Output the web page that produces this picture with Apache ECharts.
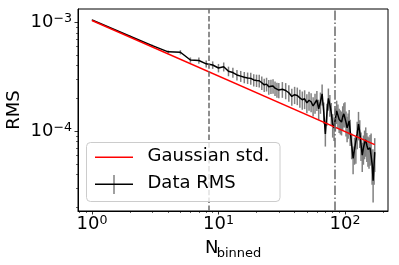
<!DOCTYPE html>
<html><head><meta charset="utf-8">
<script src="https://cdn.jsdelivr.net/npm/echarts@6/dist/echarts.min.js"></script>
<style>html,body{margin:0;padding:0;background:#fff}#c{width:399px;height:265px}</style>
</head><body><div id="c"></div>
<script>
// ---- data ----
const nBinned = [1,2,3,4,5,6,7,8,9,10,11,12,13,14,15,16,17,18,19,20,21,22,23,24,25,26,27,28,29,30,
  32,34,36,38,40,42,44,46,48,50,52,54,56,58,60,62,64,66,68,70,72,74,76,78,80,82,84,86,88,90,
  92,94,96,98,100,102,104,106,108,110,113,116,119,122,125,128,131,134,137,140,143,146,149,152,155,158,161,164,167,170,172];
const dataRms = [1.05e-3,7.45e-4,6.1e-4,5.35e-4,5.3e-4,4.5e-4,4.45e-4,4.15e-4,4.05e-4,3.8e-4,
  3.9e-4,3.55e-4,3.45e-4,3.28e-4,3.2e-4,3.12e-4,3.08e-4,3.05e-4,2.95e-4,2.92e-4,
  2.9e-4,2.78e-4,2.66e-4,2.7e-4,2.55e-4,2.58e-4,2.6e-4,2.48e-4,2.4e-4,2.38e-4,
  2.42e-4,2.36e-4,2.25e-4,2.08e-4,2.16e-4,2.12e-4,2.02e-4,1.94e-4,1.98e-4,1.82e-4,
  1.92e-4,1.86e-4,1.70e-4,1.82e-4,1.93e-4,1.60e-4,1.85e-4,2.2e-4,1.5e-4,9.4e-5,
  1.45e-4,2.0e-4,1.75e-4,1.46e-4,1.15e-4,1.07e-4,1.3e-4,1.53e-4,1.4e-4,1.28e-4,
  1.24e-4,1.21e-4,1.35e-4,1.44e-4,1.46e-4,1.2e-4,1.07e-4,1.15e-4,1.24e-4,1.0e-4,
  7.5e-5,5.6e-5,6.8e-5,7.0e-5,9.5e-5,1.16e-4,9.8e-5,7.5e-5,6.0e-5,7.0e-5,
  7.8e-5,8.3e-5,7.4e-5,6.8e-5,6.6e-5,7.0e-5,7.2e-5,5.0e-5,3.5e-5,5.0e-5,6.4e-5];
const dataErr = [5e-6,7e-6,1.2e-5,1.6e-5,2.4e-5,2.5e-5,2.9e-5,3.1e-5,3.2e-5,3.4e-5,
  3.7e-5,3.6e-5,3.6e-5,3.6e-5,3.7e-5,3.7e-5,3.7e-5,3.8e-5,3.8e-5,3.8e-5,
  3.9e-5,3.9e-5,3.7e-5,3.9e-5,3.9e-5,3.9e-5,4.0e-5,3.8e-5,3.8e-5,3.8e-5,
  4.0e-5,4.0e-5,3.9e-5,3.7e-5,3.9e-5,3.9e-5,3.8e-5,3.7e-5,3.9e-5,3.6e-5,
  3.8e-5,3.7e-5,3.4e-5,3.8e-5,4.0e-5,3.4e-5,4.1e-5,4.8e-5,3.3e-5,2.2e-5,
  3.3e-5,4.6e-5,4.0e-5,3.5e-5,2.8e-5,2.6e-5,3.1e-5,3.7e-5,3.5e-5,3.2e-5,
  3.1e-5,3.0e-5,3.4e-5,3.6e-5,3.8e-5,3.1e-5,2.8e-5,3.0e-5,3.2e-5,2.7e-5,
  2.0e-5,1.6e-5,1.9e-5,2.0e-5,2.7e-5,3.4e-5,2.8e-5,2.2e-5,1.8e-5,2.1e-5,
  2.3e-5,2.5e-5,2.2e-5,2.1e-5,2.1e-5,2.2e-5,2.3e-5,1.8e-5,1.3e-5,1.8e-5,2.2e-5];
const gaussN = [1, 172];
const gaussStd = [1.04e-3, 7.5e-5];
const vLineDashed = 8.45;
const vLineDashDot = 82.5;
const xMajorTicks = [1, 10, 100];
const xMinorTicks = [0.8,0.9,2,3,4,5,6,7,8,9,20,30,40,50,60,70,80,90,200];
const yMajorTicks = [1e-4, 1e-3];
const yMinorTicks = [2e-5,3e-5,4e-5,5e-5,6e-5,7e-5,8e-5,9e-5,2e-4,3e-4,4e-4,5e-4,6e-4,7e-4,8e-4,9e-4];
const legendNames = ['Gaussian std.', 'Data RMS'];
const xLabelMain = 'N', xLabelSub = 'binned', yLabel = 'RMS';

// ---- chart ----
const FONT = 'DejaVu Sans';
const X_MIN = 0.775, X_MAX = 219, Y_MIN = 1.84e-5, Y_MAX = 1.325e-3;
const chart = echarts.init(document.getElementById('c'), null, {renderer: 'canvas'});
const pow10 = v => {
  const e = Math.round(Math.log10(v));
  return '{b|10}{s|' + (e < 0 ? '\u2212' : '') + Math.abs(e) + '}';
};
const rich = {
  b: {fontSize: 18, fontFamily: FONT, color: '#000', lineHeight: 20},
  s: {fontSize: 12.6, fontFamily: FONT, color: '#000', lineHeight: 13, verticalAlign: 'top'}
};
const axisBase = (isX, minor) => ({
  type: 'log', logBase: 10,
  min: isX ? X_MIN : Y_MIN, max: isX ? X_MAX : Y_MAX,
  position: isX ? 'bottom' : 'left',
  axisLine: {show: !minor, lineStyle: {color: '#000', width: 1}},
  axisTick: {show: true, inside: false, length: minor ? 2 : 3.5,
    customValues: minor ? (isX ? xMinorTicks : yMinorTicks) : (isX ? xMajorTicks : yMajorTicks),
    lineStyle: {color: '#000', width: minor ? 0.6 : 0.8}},
  axisLabel: minor ? {show: false} : {show: true, customValues: isX ? xMajorTicks : yMajorTicks,
    formatter: pow10, rich: rich, margin: isX ? 3 : 6},
  splitLine: {show: false}, minorTick: {show: false}, minorSplitLine: {show: false}
});

const errData = nBinned.map((n, i) => [n, dataRms[i] - dataErr[i], dataRms[i] + dataErr[i]]);

chart.setOption({
  animation: false,
  backgroundColor: '#fff',
  grid: {left: 78, top: 9, right: 11, bottom: 54, show: true, borderColor: '#000', borderWidth: 1, containLabel: false},
  xAxis: [axisBase(true, false), axisBase(true, true)],
  yAxis: [axisBase(false, false), axisBase(false, true)],
  series: [
    {
      type: 'custom', name: 'err', xAxisIndex: 0, yAxisIndex: 0, clip: true, z: 2,
      data: errData,
      renderItem: (params, api) => {
        const p1 = api.coord([api.value(0), api.value(1)]);
        const p2 = api.coord([api.value(0), api.value(2)]);
        return {type: 'line', shape: {x1: p1[0], y1: p1[1], x2: p2[0], y2: p2[1]},
          style: {stroke: '#808080', lineWidth: 1.5}};
      },
      markLine: {
        silent: true, symbol: ['none', 'none'], label: {show: false},
        data: [
          {xAxis: vLineDashed, lineStyle: {color: '#6a6a6a', width: 1.5, type: [5.5, 2.4]}},
          {xAxis: vLineDashDot, lineStyle: {color: '#6a6a6a', width: 1.5, type: [9.6, 2.4, 1.5, 2.4]}}
        ]
      }
    },
    {
      type: 'line', name: legendNames[1], xAxisIndex: 0, yAxisIndex: 0, z: 3,
      data: nBinned.map((n, i) => [n, dataRms[i]]),
      showSymbol: false, symbol: 'none',
      lineStyle: {color: '#000', width: 1.5}, itemStyle: {color: '#000'}
    },
    {
      type: 'line', name: legendNames[0], xAxisIndex: 0, yAxisIndex: 0, z: 4,
      data: gaussN.map((n, i) => [n, gaussStd[i]]),
      showSymbol: false, symbol: 'none',
      lineStyle: {color: '#ff0000', width: 1.5}, itemStyle: {color: '#ff0000'}
    }
  ],
  graphic: [
    {type: 'rect', z: 100, shape: {x: 86.5, y: 142.5, width: 193.5, height: 59, r: 4},
      style: {fill: 'rgba(255,255,255,0.8)', stroke: '#cccccc', lineWidth: 1}},
    {type: 'line', z: 101, shape: {x1: 95, y1: 157.3, x2: 133, y2: 157.3}, style: {stroke: '#ff0000', lineWidth: 1.5}},
    {type: 'text', z: 101, x: 147.5, y: 156.5, style: {text: legendNames[0], font: '18px "DejaVu Sans"', fill: '#000', verticalAlign: 'middle', align: 'left'}},
    {type: 'line', z: 101, shape: {x1: 114, y1: 175, x2: 114, y2: 194}, style: {stroke: '#808080', lineWidth: 1.5}},
    {type: 'line', z: 102, shape: {x1: 95, y1: 184.3, x2: 133, y2: 184.3}, style: {stroke: '#000', lineWidth: 1.5}},
    {type: 'text', z: 101, x: 147.5, y: 183.5, style: {text: legendNames[1], font: '18px "DejaVu Sans"', fill: '#000', verticalAlign: 'middle', align: 'left'}},
    {type: 'text', z: 101, x: 205, y: 248.3, style: {text: xLabelMain, font: '18px "DejaVu Sans"', fill: '#000', verticalAlign: 'middle', align: 'left'}},
    {type: 'text', z: 101, x: 216.7, y: 254, style: {text: xLabelSub, font: '13px "DejaVu Sans"', fill: '#000', verticalAlign: 'middle', align: 'left'}},
    {type: 'text', z: 101, x: 14.5, y: 110, rotation: Math.PI / 2, style: {text: yLabel, font: '18px "DejaVu Sans"', fill: '#000', verticalAlign: 'middle', align: 'center'}}
  ]
});
</script></body></html>
